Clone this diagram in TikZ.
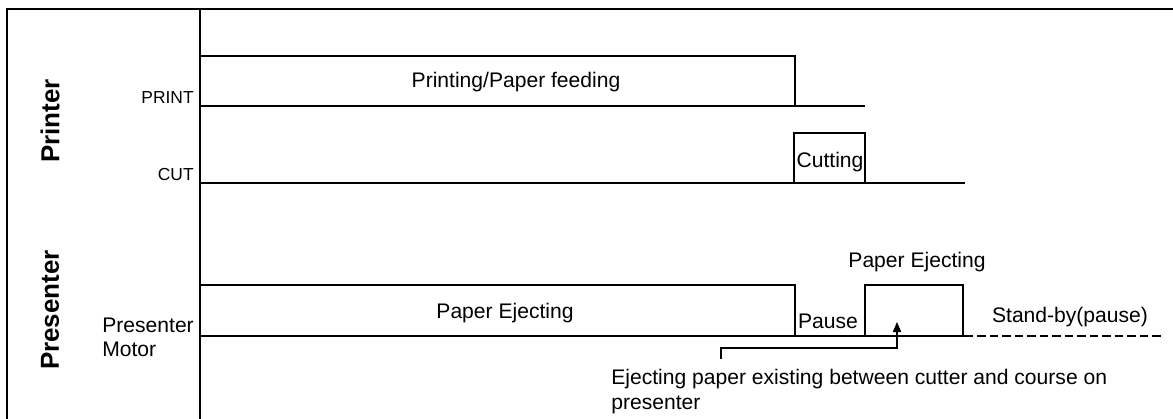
\documentclass[tikz,border=0pt]{standalone}
\usepackage{fontspec}
\setmainfont{Liberation Sans}
\usetikzlibrary{arrows.meta, positioning}

\begin{document}
\begin{tikzpicture}[
  x=0.02cm, y=-0.02cm,
  >={Triangle[length=5.8pt,width=4.8pt]},
  every node/.style={font=\fontsize{12}{14}\selectfont, inner sep=0pt},
  signal/.style={line width=1.2pt},
  border/.style={line width=1.2pt},
  thin-line/.style={line width=0.6pt},
  sig-name/.style={font=\fontsize{9.9}{12}\selectfont, anchor=base east},
  group-label/.style={font=\fontsize{14.8}{17}\selectfont\bfseries, rotate=90},
  phase/.style={anchor=base}
]
\useasboundingbox (0,0) rectangle (1173,419);
% frame
\draw[border] (7,419) -- (7,9) -- (1173,9);
\draw[border] (200,9) -- (200,419);
% PRINT
\draw[signal] (200,106) -- (865,106);
\draw[signal] (200,56) -- (795,56) -- (795,106);
% CUT
\draw[signal] (200,183) -- (965,183);
\draw[signal] (794,183) -- (794,133) -- (865,133) -- (865,183);
% presenter motor
\draw[signal] (200,336) -- (965,336);
\draw[signal] (200,285) -- (795,285) -- (795,336);
\draw[signal] (865,336) -- (865,285) -- (963,285) -- (963,336);
\draw[signal, dash pattern=on 4.8pt off 2.3pt] (965,336) -- (1163,336);
% labels
\node[group-label] (printer) at (50,121) {Printer};
\node[group-label] (presenter) at (50,310) {Presenter};
\node[sig-name] (print-name) at (194,103) {PRINT};
\node[sig-name] (cut-name) at (194,180) {CUT};
\node[anchor=north west, align=left, font=\fontsize{12}{13.6}\selectfont] (motor-name) at (102,318) {Presenter\\Motor};
% phases
\node[phase] (printing) at (516,87) {Printing/Paper feeding};
\node[phase] (cutting) at (830,167) {Cutting};
\node[phase] (ejecting-1) at (505,318) {Paper Ejecting};
\node[phase] (pause) at (828,328) {Pause};
\node[phase] (ejecting-2) at (917,267) {Paper Ejecting};
\node[phase] (standby) at (1070,322) {Stand-by(pause)};
% note
\node[anchor=north west, align=left, font=\fontsize{12}{14.2}\selectfont] (note) at (611,369)
  {Ejecting paper existing between cutter and course on\\presenter};
\coordinate (note-tick) at (721,359);
\coordinate (note-bend) at (721,348);
\coordinate (paper-pos) at (897,322);
\draw[thin-line, ->] (note-tick) -- (note-bend) -| (paper-pos);
\end{tikzpicture}
\end{document}
